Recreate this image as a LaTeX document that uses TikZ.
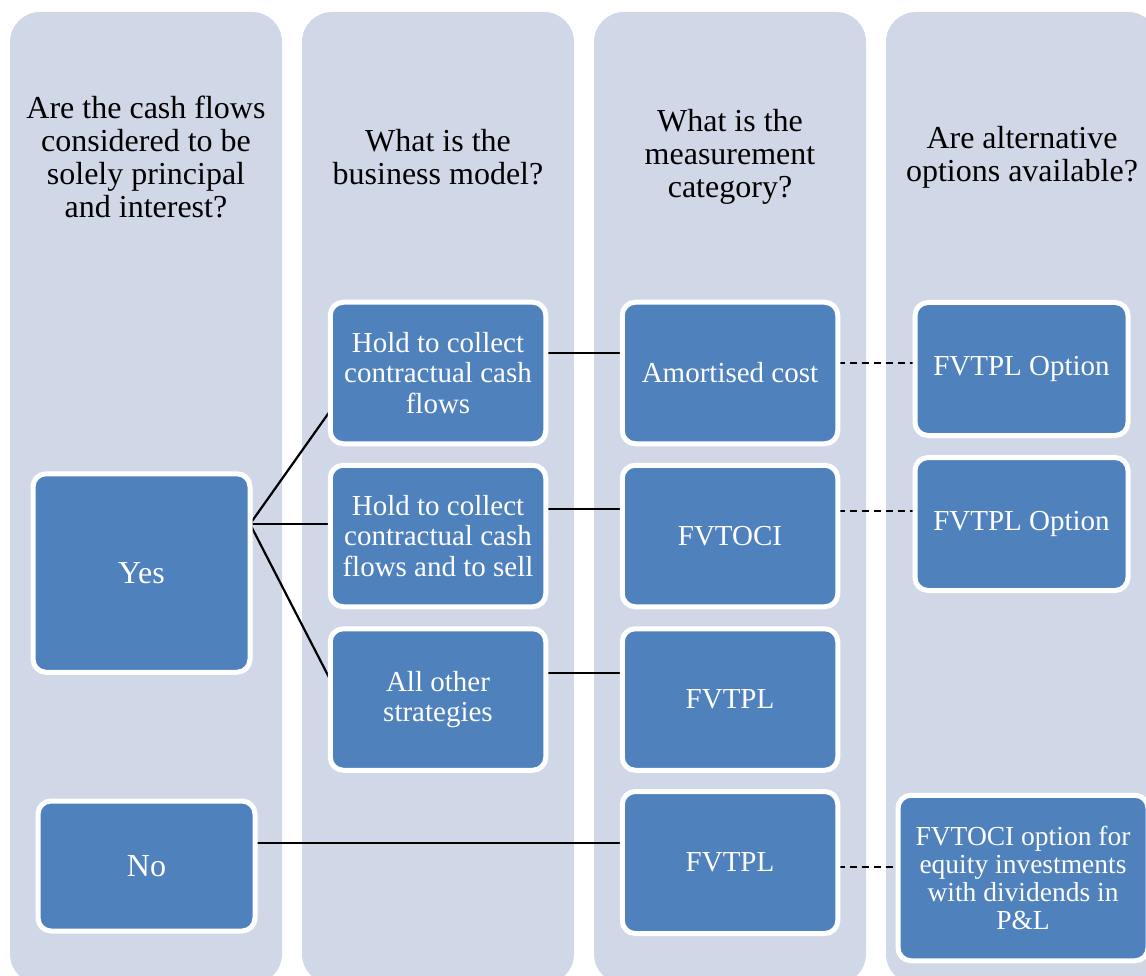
\documentclass[tikz,border=0pt]{standalone}
\usepackage{fontspec}
\setmainfont{Liberation Serif}
\usetikzlibrary{calc}
\pgfdeclarelayer{lanes}
\pgfdeclarelayer{links}
\pgfsetlayers{lanes,links,main}
\definecolor{lanefill}{HTML}{D0D8E8}
\definecolor{boxfill}{HTML}{4F81BD}

\begin{document}
\begin{tikzpicture}[x=1pt,y=-1pt,
  lane/.style={fill=lanefill, rounded corners=30pt},
  head/.style={align=center, text=black, inner sep=0pt,
    font=\fontsize{32}{32.8}\selectfont},
  card/.style={draw=white, line width=5pt, fill=boxfill, rounded corners=13pt,
    text=white, align=center, inner sep=0pt, outer sep=0pt,
    minimum width=215.5pt, minimum height=141.5pt,
    font=\fontsize{29}{30.3}\selectfont},
  bigcard/.style={card, font=\fontsize{32}{33}\selectfont},
  link/.style={draw=black, line width=2.2pt},
  optlink/.style={draw=black, line width=2.2pt, dash pattern=on 7pt off 5pt}]

\useasboundingbox (0,0) rectangle (1146,976);

% four question columns
\begin{pgfonlayer}{lanes}
  \path[lane] (10,12)  rectangle (282,984);
  \path[lane] (302,12) rectangle (574,984);
  \path[lane] (594,12) rectangle (866,984);
  \path[lane] (886,12) rectangle (1158,984);
\end{pgfonlayer}

% column questions
\node[head] (q1) at (146,157)  {Are the cash flows\\considered to be\\solely principal\\and interest?};
\node[head] (q2) at (438,157)  {What is the\\business model?};
\node[head] (q3) at (730,157)  {What is the\\measurement\\category?};
\node[head] (q4) at (1022,157) {Are alternative\\options available?};

% answers to the cash-flow test
\node[bigcard, minimum width=217pt, minimum height=198.5pt] (yes) at (141.5,573) {Yes};
\node[bigcard, minimum width=217pt, minimum height=130pt]   (no)  at (146.5,866) {No};

% business models
\node[card] (h1) at (438,373)   {Hold to collect\\contractual cash\\flows};
\node[card] (h2) at (438,536)   {Hold to collect\\contractual cash\\flows and to sell};
\node[card] (h3) at (438,699.5) {All other\\strategies};

% measurement categories
\node[card] (amort) at (730,373)   {Amortised cost};
\node[card] (fvoci) at (730,536)   {FVTOCI};
\node[card] (fvpl)  at (730,699.5) {FVTPL};
\node[card, minimum height=142pt] (fvpl2) at (730,862.5) {FVTPL};

% alternative options
\node[card, minimum width=213pt, minimum height=133pt] (opt1) at (1021.5,369) {FVTPL Option};
\node[card, minimum width=213pt, minimum height=133pt] (opt2) at (1021.5,524) {FVTPL Option};
\node[card, minimum width=250pt, minimum height=165.5pt,
      font=\fontsize{27.5}{28}\selectfont] (eqopt) at (1023,878)
      {FVTOCI option for\\equity investments\\with dividends in\\P\&L};

% connectors
\coordinate (fan)  at ($(yes.east)+(0,-49)$);
\coordinate (l1)   at ($(h1.east)+(0,-20)$);
\coordinate (l2)   at ($(h2.east)+(0,-27)$);
\coordinate (l3)   at ($(h3.east)+(0,-26.5)$);
\coordinate (l4)   at ($(no.east)+(0,-23)$);
\coordinate (d1)   at ($(amort.east)+(0,-10)$);
\coordinate (d2)   at ($(fvoci.east)+(0,-25)$);
\coordinate (d3)   at ($(fvpl2.east)+(0,4.5)$);

\begin{pgfonlayer}{links}
  \draw[link] (fan) -- ($(h1.south west)+(0,-33)$);
  \draw[link] (fan) -- (fan -| h2.west);
  \draw[link] (fan) -- ($(h3.north west)+(0,51)$);
  \draw[link] (l1) -- (l1 -| amort.west);
  \draw[link] (l2) -- (l2 -| fvoci.west);
  \draw[link] (l3) -- (l3 -| fvpl.west);
  \draw[link] (l4) -- (l4 -| fvpl2.west);
  \draw[optlink] (d1) -- (d1 -| opt1.west);
  \draw[optlink] (d2) -- (d2 -| opt2.west);
  \draw[optlink] (d3) -- (d3 -| eqopt.west);
\end{pgfonlayer}
\end{tikzpicture}
\end{document}
